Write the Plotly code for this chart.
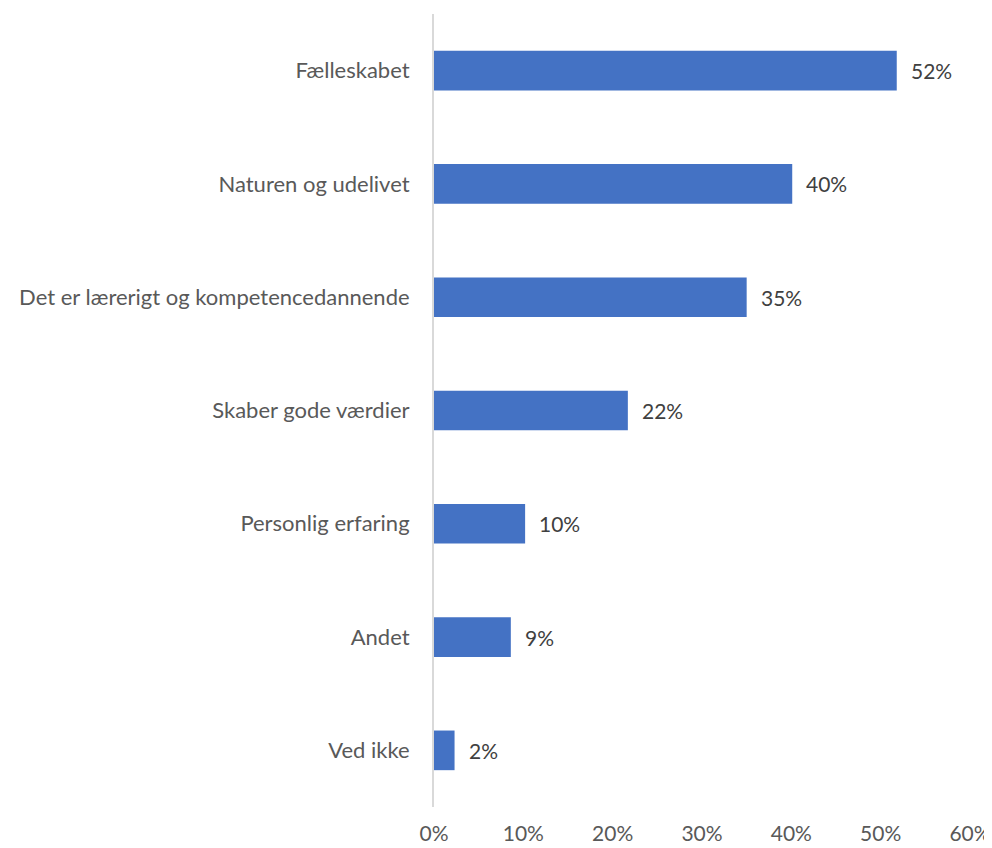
import plotly.graph_objects as go

categories = ["Fælleskabet", "Naturen og udelivet", "Det er lærerigt og kompetencedannende",
              "Skaber gode værdier", "Personlig erfaring", "Andet", "Ved ikke"]
values = [0.518, 0.401, 0.350, 0.217, 0.102, 0.086, 0.023]
labels = ["52%", "40%", "35%", "22%", "10%", "9%", "2%"]
x_ticks = [0, 0.1, 0.2, 0.3, 0.4, 0.5, 0.6]
x_tick_labels = ["0%", "10%", "20%", "30%", "40%", "50%", "60%"]

FONT = "Lato, 'Open Sans', sans-serif"
GREY = "#595959"

fig = go.Figure(go.Bar(
    x=values, y=categories, orientation="h",
    marker=dict(color="#4472C4", line=dict(width=0)),
    width=0.35,
))

for v, c, t in zip(values, categories, labels):
    fig.add_annotation(x=v, y=c, text=t, xanchor="left", xshift=12, showarrow=False,
                       font=dict(family=FONT, size=21, color="#404040"))

fig.update_layout(
    width=984, height=840,
    margin=dict(l=426, r=22, t=6, b=41),
    paper_bgcolor="white", plot_bgcolor="white",
    showlegend=False,
    font=dict(family=FONT, size=22, color=GREY),
    xaxis=dict(range=[0, 0.6], tickvals=x_ticks, ticktext=x_tick_labels,
               showgrid=False, zeroline=False, showline=False, automargin=False,
               ticks="outside", ticklen=8, tickcolor="rgba(0,0,0,0)",
               tickfont=dict(family=FONT, size=21, color=GREY)),
    yaxis=dict(autorange="reversed", showgrid=False, zeroline=False, automargin=False,
               showline=True, linecolor="#D9D9D9", linewidth=2,
               ticks="outside", ticklen=18, tickcolor="rgba(0,0,0,0)",
               tickfont=dict(family=FONT, size=22, color=GREY)),
)

fig.write_html("out.html")
